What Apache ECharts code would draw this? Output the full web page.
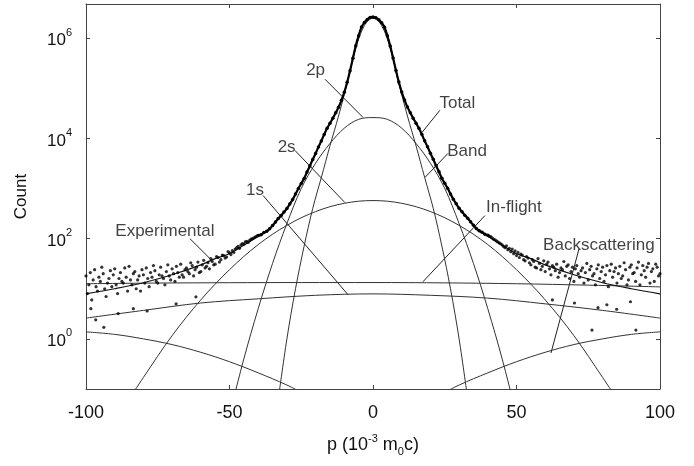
<!DOCTYPE html>
<html>
<head>
<meta charset="utf-8">
<script src="https://cdn.jsdelivr.net/npm/echarts@6/dist/echarts.min.js"></script>
<style>
html, body { margin: 0; padding: 0; background: #fff; }
#chart { width: 694px; height: 466px; }
</style>
</head>
<body>
<div id="chart"></div>
<script>
// p in 10^-3 m0c, counts
var yTicks = [1, 100, 1e4, 1e6];

var totalP = [-100,-90,-80,-70,-60,-55,-50,-45,-40,-36,-33,-30,-28,-26,-24,-22,-20,-18,-16,-14,-12,-10,-8,-6,-4,-2,0,
              2,4,6,8,10,12,14,16,18,20,22,24,26,28,30,33,36,40,45,50,55,60,70,80,90,100];
var totalC = [7.9,10,13.2,19,30,40,50,74,112,160,250,400,600,1000,1580,2800,5000,8900,15800,25000,42000,83000,224000,710000,1660000,2340000,2630000,
              2340000,1660000,710000,224000,83000,42000,25000,15800,8900,5000,2800,1580,1000,600,400,250,160,112,74,50,40,30,19,13.2,10,7.9];

var bandP = [-33,-30,-27,-24,-21,-18,-15,-12,-9,-6,-3,0,3,6,9,12,15,18,21,24,27,30,33];
var bandC = [0.063,1,10,71,400,1660,7100,28000,126000,630000,1780000,2500000,1780000,630000,126000,28000,7100,1660,400,71,10,1,0.063];

var p2pP = [-50,-45,-40,-35,-30,-25,-20,-15,-10,-5,0,5,10,15,20,25,30,35,40,45,50];
var p2pC = [0.03,0.4,4,32,200,1000,3200,7900,16000,24000,26000,24000,16000,7900,3200,1000,200,32,4,0.4,0.03];

var s2sP = [-85,-80,-70,-60,-50,-40,-30,-20,-10,0,10,20,30,40,50,60,70,80,85];
var s2sC = [0.063,0.17,1.16,6,24,76,184,347,507,575,507,347,184,76,24,6,1.16,0.17,0.063];

var s1sP = [-100,-80,-60,-40,-20,0,20,40,60,80,100];
var s1sC = [2.6,3.7,5.2,6.3,7.4,7.9,7.4,6.5,5.0,3.7,2.6];

var flightP = [-100,-75,-50,-25,0,25,50,75,100];
var flightC = [12.6,13,13.2,13.3,13.3,13.1,12.6,11.8,10.9];

var backLP = [-100,-90,-80,-70,-60,-50,-40,-30,-25];
var backLC = [1.38,1.23,1.0,0.77,0.54,0.35,0.21,0.12,0.085];
var backRP = [25,30,40,50,60,70,80,90,100];
var backRC = [0.085,0.12,0.21,0.35,0.54,0.77,1.0,1.23,1.38];

// experimental points, -40..40 step 1
var expCore = [115,120,132,141,158,182,214,251,288,339,398,490,603,776,1000,1259,1585,2138,2818,3800,
  5012,6760,8913,12020,15850,19950,25120,32360,41690,57540,83180,131800,223900,398100,707900,1122000,1660000,2042000,2344000,2570000,
  2630000,
  2560000,2330000,2030000,1650000,1110000,700000,402000,226000,133000,84000,58000,42100,32600,25300,20100,15900,12100,8950,6800,5050,
  3820,2840,2150,1600,1270,1010,780,610,495,405,345,293,256,218,186,160,143,134,122,117];
// tails: A at integer p, B half a step further
var leftTailA = [18,12,6,24,9,14,20,7,16,11, 25,8,21,13,17,28,12,22,15,9, 19,26,11,17,23,13,27,16,22,18,
  25,14,21,31,17,26,20,29,24,34, 22,37,28,25,35,31,42,38,46,43, 52,58,62,70,75,78,88,92,100,108];
var leftTailB = [8,21,15,11,17,27,10,13,23,19, 12,16,14,26,9,15,20,10,18,24, 13,16,21,29,14,19,18,12,30,15,
  20,28,17,19,24,22,33,18,27,21, 30,26,33,40,30,44,34,47,41,55, 48,53,66,64,80,86,84,98,104,112];
var rightTailA = [110,98,90,82,75,66,60,55,50,46, 42,47,36,41,30,35,26,32,28,22, 34,19,27,31,21,24,18,30,22,14,
  29,17,26,21,15,28,20,25,16,27, 19,11,31,22,13,28,18,24,15,30, 21,26,12,29,17,32,22,14,27,20];
var rightTailB = [112,104,95,86,79,70,72,64,62,57, 53,49,38,44,33,38,27,40,24,36, 31,25,29,23,17,26,35,28,16,27,
  25,20,23,13,32,24,18,12,30,22, 14,29,23,17,26,20,16,33,12,27, 20,14,34,19,23,27,13,25,31,18];
var expStray = [[-98.3,4],[-96.6,2.4],[-93.8,1.7],[-88.8,3.2],[-83.5,4],[-78.7,3.6],[-68.6,5],[-61.7,6.9],
  [76.3,1.5],[91.6,1.5],[78.4,4.2],[81.5,4.8],[84.9,3.9],[89.7,5.5],[62.5,6],[70.2,5.2]];

// annotations
var noteText = ['2p','Total','Band','2s','1s','In-flight','Backscattering','Experimental'];
var noteAt = [[-20,2.29e5],[29.4,5.1e4],[32.8,5500],[-30.1,6600],[-41.1,912],[49.1,417],[78.7,72],[-72.5,138]];
var leaderFrom = [[-16.7,1.51e5],[23.3,3.63e4],[26.1,5000],[-27.2,5750],[-38.3,724],[39.0,288],[71.8,63],[-63.8,100]];
var leaderTo = [[-3.5,2.63e4],[17.1,1.32e4],[18.1,1660],[-9.8,525],[-8.7,7.6],[17.4,13.8],[62.0,0.52],[-56.8,40]];

function zip(P, C) { return P.map(function(p, i) { return [p, C[i]]; }); }

var coreData = expCore.map(function(c, i) { return [-40 + i, c]; });
var tailData = [];
leftTailA.forEach(function(c, i) { tailData.push([-100 + i, c]); });
leftTailB.forEach(function(c, i) { tailData.push([-99.5 + i, c]); });
rightTailA.forEach(function(c, i) { tailData.push([41 + i, c]); });
rightTailB.forEach(function(c, i) { tailData.push([40.5 + i, c]); });
tailData = tailData.concat(expStray);

var font = 'Liberation Sans, Arial, Helvetica, sans-serif';
var axisCol = '#444';

function curve(name, P, C, w, col) {
  return {
    name: name, type: 'line', data: zip(P, C), smooth: 0.35,
    showSymbol: false, symbol: 'none', clip: true,
    lineStyle: { color: col || '#333', width: w || 1 }, z: 2
  };
}

var chart = echarts.init(document.getElementById('chart'), null, { renderer: 'canvas' });

var option = {
  animation: false,
  backgroundColor: '#fff',
  textStyle: { fontFamily: font },
  grid: { left: 86, right: 34, top: 4, bottom: 77, containLabel: false },
  xAxis: [{
    type: 'value', min: -100, max: 100, interval: 50, position: 'bottom',
    axisLine: { onZero: false, lineStyle: { color: axisCol, width: 1 } },
    axisTick: { inside: true, length: 4, lineStyle: { color: axisCol } },
    axisLabel: { fontSize: 18, color: '#111', margin: 15, fontFamily: font },
    splitLine: { show: false },
    name: '{a|p (10}{s|-3}{a| m}{d|0}{a|c)}',
    nameLocation: 'middle', nameGap: 44,
    nameTextStyle: {
      fontFamily: font, color: '#111',
      rich: {
        a: { fontSize: 18, fontFamily: font, color: '#111', lineHeight: 24, verticalAlign: 'middle' },
        s: { fontSize: 11, fontFamily: font, color: '#111', lineHeight: 12, verticalAlign: 'top' },
        d: { fontSize: 11, fontFamily: font, color: '#111', lineHeight: 12, verticalAlign: 'bottom' }
      }
    }
  }, {
    type: 'value', min: -100, max: 100, interval: 50, position: 'top',
    axisLine: { onZero: false, lineStyle: { color: axisCol, width: 1 } },
    axisTick: { inside: true, length: 4, lineStyle: { color: axisCol } },
    axisLabel: { show: false }, splitLine: { show: false }
  }],
  yAxis: [{
    type: 'log', logBase: 10, min: 0.1, max: 4.8e6, position: 'left',
    axisLine: { show: true, onZero: false, lineStyle: { color: axisCol, width: 1 } },
    axisTick: { show: true, inside: true, length: 4, customValues: yTicks, lineStyle: { color: axisCol } },
    axisLabel: {
      customValues: yTicks, margin: 14, color: '#111',
      formatter: function(v) { return '{b|10}{s|' + Math.round(Math.log10(v)) + '}'; },
      rich: {
        b: { fontSize: 17, fontFamily: font, color: '#111', lineHeight: 22, verticalAlign: 'bottom' },
        s: { fontSize: 11, fontFamily: font, color: '#111', lineHeight: 12, verticalAlign: 'top' }
      }
    },
    splitLine: { show: false }, minorTick: { show: false },
    name: 'Count', nameLocation: 'middle', nameGap: 56, nameRotate: 90,
    nameTextStyle: { fontSize: 17, fontFamily: font, color: '#111' }
  }, {
    type: 'log', logBase: 10, min: 0.1, max: 4.8e6, position: 'right',
    axisLine: { show: true, onZero: false, lineStyle: { color: axisCol, width: 1 } },
    axisTick: { show: true, inside: true, length: 4, customValues: yTicks, lineStyle: { color: axisCol } },
    axisLabel: { show: false }, splitLine: { show: false }
  }],
  series: [
    curve('1s', s1sP, s1sC),
    curve('In-flight', flightP, flightC),
    curve('Backscattering L', backLP, backLC),
    curve('Backscattering R', backRP, backRC),
    curve('2s', s2sP, s2sC),
    curve('2p', p2pP, p2pC),
    curve('Band', bandP, bandC),
    curve('Total', totalP, totalC, 1.2, '#111'),
    {
      name: 'Experimental core', type: 'line', data: coreData, smooth: 0.3,
      symbol: 'circle', symbolSize: 3.5, showSymbol: true,
      itemStyle: { color: '#000' }, lineStyle: { color: '#000', width: 2.2 }, z: 4, clip: true
    },
    {
      name: 'Experimental', type: 'scatter', data: tailData,
      symbol: 'circle', symbolSize: 3.2, itemStyle: { color: '#000' }, z: 4, clip: true
    },
    {
      name: 'leaders', type: 'lines', coordinateSystem: 'cartesian2d',
      data: leaderFrom.map(function(f, i) { return { coords: [f, leaderTo[i]] }; }),
      lineStyle: { color: '#222', width: 1, opacity: 1 }, symbol: 'none', z: 3
    },
    {
      name: 'notes', type: 'scatter',
      data: noteText.map(function(t, i) { return { name: t, value: noteAt[i] }; }),
      symbolSize: 0, itemStyle: { color: 'transparent' }, z: 5, silent: true,
      label: {
        show: true, position: 'inside', formatter: '{b}',
        fontSize: 17, fontFamily: font, color: '#111'
      }
    }
  ]
};

chart.setOption(option);
</script>
</body>
</html>
